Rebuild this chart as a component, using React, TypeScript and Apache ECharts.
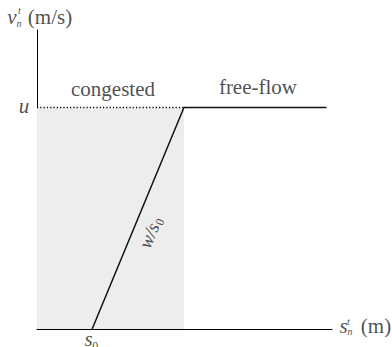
import React, { useEffect, useRef } from "react";
import * as echarts from "echarts";

// Data (arbitrary units: s in m, v in m/s)
const S0 = 2; // jam spacing s0
const SC = 5.33; // critical spacing (knee)
const S_END = 10.5; // end of free-flow branch
const U = 20; // free-flow speed u
const X_MAX = 10.7;
const Y_MAX = 27;

const speedS = [S0, SC, S_END];
const speedV = [0, U, U];
const dottedS = [0, SC];
const dottedV = [U, U];

// a point on the congested branch where the slope label sits
const SLOPE_FRAC = 0.437;
const slopePoint = [S0 + (SC - S0) * SLOPE_FRAC, U * SLOPE_FRAC];
const SLOPE_DEG = 67.7;

const FONT = "Liberation Serif";

type Ann = {
  at: number[];
  text: string;
  off: number[];
  size?: number;
  italic?: boolean;
  rotate?: number;
  rich?: any;
};

const annotations: Ann[] = [
  // y axis name  v_n^t (m/s)
  { at: [0, Y_MAX], text: "v", off: [-25, -13], italic: true, size: 21 },
  { at: [0, Y_MAX], text: "n", off: [-18, -7], italic: true, size: 10 },
  { at: [0, Y_MAX], text: "t", off: [-17.5, -20], italic: true, size: 10 },
  { at: [0, Y_MAX], text: "(m/s)", off: [13, -13], size: 21 },
  // x axis name  s_n^t (m)
  { at: [X_MAX, 0], text: "s", off: [11.5, -3], italic: true, size: 21 },
  { at: [X_MAX, 0], text: "n", off: [18, 2.5], italic: true, size: 10 },
  { at: [X_MAX, 0], text: "t", off: [16.5, -8], italic: true, size: 10 },
  { at: [X_MAX, 0], text: "(m)", off: [44, -3], size: 21 },
  // u and s0
  { at: [0, U], text: "u", off: [-13, -2], italic: true, size: 21 },
  { at: [S0, 0], text: "s", off: [-3.5, 9.5], italic: true, size: 21 },
  { at: [S0, 0], text: "0", off: [3, 17], size: 12 },
  // regime names
  { at: [0, U], text: "congested", off: [76, -19], size: 21 },
  { at: [SC, U], text: "free-flow", off: [74, -21], size: 21 },
  // slope (offset is in the rotated label frame: along, across the line)
  {
    at: slopePoint,
    text: "{a|w/s}{b|0}",
    off: [6.8, 16.6],
    rotate: SLOPE_DEG,
    rich: {
      a: { fontFamily: FONT, fontStyle: "italic", fontSize: 19, lineHeight: 22, color: "#222" },
      b: { fontFamily: FONT, fontSize: 12, lineHeight: 12, verticalAlign: "bottom", color: "#222", padding: [0, 0, 0, 1] },
    },
  },
];

export default function App() {
  const ref = useRef<HTMLDivElement>(null);
  useEffect(() => {
    if (!ref.current) return;
    const chart = echarts.init(ref.current, undefined, { renderer: "svg" });
    const axisCommon = {
      type: "value" as const,
      axisLine: { show: true, lineStyle: { color: "#000", width: 1 } },
      axisTick: { show: false },
      axisLabel: { show: false },
      splitLine: { show: false },
    };
    chart.setOption({
      animation: false,
      textStyle: { fontFamily: FONT },
      grid: { left: 37, top: 30, right: 60, bottom: 18 },
      xAxis: { ...axisCommon, min: 0, max: X_MAX },
      yAxis: { ...axisCommon, min: 0, max: Y_MAX },
      series: [
        {
          type: "line",
          data: dottedS.map((s, i) => [s, dottedV[i]]),
          showSymbol: false,
          silent: true,
          lineStyle: { color: "#000", width: 1.3, type: [1.2, 2.1] },
          markArea: {
            silent: true,
            itemStyle: { color: "#ededed" },
            data: [[{ coord: [0, 0] }, { coord: [SC, U] }]],
          },
          z: 1,
        },
        {
          type: "line",
          data: speedS.map((s, i) => [s, speedV[i]]),
          showSymbol: false,
          silent: true,
          lineStyle: { color: "#111", width: 1.5 },
          z: 3,
        },
        {
          type: "scatter",
          silent: true,
          symbolSize: 1,
          itemStyle: { color: "rgba(0,0,0,0)" },
          z: 10,
          data: annotations.map((a) => ({
            value: a.at,
            label: {
              show: true,
              position: "inside",
              formatter: a.text,
              offset: a.off,
              rotate: a.rotate || 0,
              color: "#222",
              fontFamily: FONT,
              fontSize: a.size || 20,
              fontStyle: a.italic ? "italic" : "normal",
              ...(a.rich ? { rich: a.rich } : {}),
            },
          })),
        },
      ],
    });
    return () => chart.dispose();
  }, []);
  return (
    <div
      ref={ref}
      style={{
        position: "absolute",
        left: 0,
        top: 0,
        width: 392,
        height: 347,
        background: "#fff",
      }}
    />
  );
}
